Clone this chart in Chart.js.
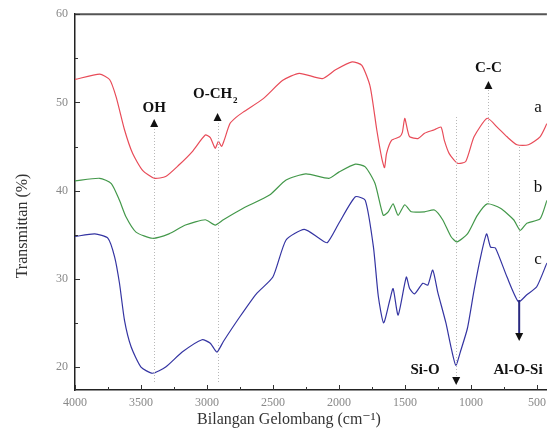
<!DOCTYPE html>
<html>
<head>
<meta charset="utf-8">
<script src="https://cdn.jsdelivr.net/npm/chart.js@4/dist/chart.umd.min.js"></script>
<style>
  html, body { margin: 0; padding: 0; background: #fff; overflow: hidden; }
</style>
</head>
<body>
<canvas id="ftirChart" width="552" height="432"></canvas>
<script>
// Sample a (red)
const waveA = [4000, 3813, 3738, 3688, 3625, 3563, 3488, 3400, 3313, 3213, 3113, 3013, 2975, 2938, 2913, 2890, 2870, 2826, 2780, 2726,
  2576, 2426, 2301, 2126, 2026, 1901, 1827, 1764, 1714, 1675, 1655, 1640, 1602, 1540, 1520, 1502, 1480, 1465, 1402, 1352,
  1277, 1227, 1202, 1165, 1102, 1040, 977, 877, 802, 727, 652, 565, 477, 425];
const transA = [52.6, 53.2, 52.6, 50.6, 46.9, 44.2, 42.3, 41.4, 41.6, 42.9, 44.4, 46.3, 46.0, 44.8, 45.6, 45.0, 45.7, 47.6, 48.3, 48.9,
  50.4, 52.5, 53.3, 52.7, 53.7, 54.6, 54.2, 51.8, 46.9, 43.6, 42.6, 44.2, 45.7, 46.1, 46.6, 48.2, 46.8, 46.1, 45.9, 46.5,
  46.9, 47.2, 45.7, 44.2, 43.1, 43.3, 46.1, 48.2, 47.2, 46.1, 45.2, 45.2, 46.1, 47.6];

// Sample b (green)
const waveB = [4000, 3813, 3725, 3663, 3613, 3538, 3413, 3288, 3163, 3013, 2938, 2876, 2726, 2526, 2401, 2251, 2076, 2001, 1876, 1801,
  1727, 1665, 1627, 1590, 1552, 1502, 1452, 1352, 1277, 1215, 1152, 1107, 1027, 952, 877, 777, 677, 627, 577, 477, 425];
const transB = [41.1, 41.4, 40.8, 38.9, 37.0, 35.3, 34.6, 35.1, 36.1, 36.7, 36.1, 36.7, 38.0, 39.5, 41.2, 41.9, 41.4, 42.1, 43.0, 42.7,
  40.8, 37.2, 37.6, 38.5, 37.2, 38.4, 37.6, 37.6, 37.8, 36.7, 34.8, 34.2, 35.1, 37.2, 38.5, 38.0, 36.7, 35.5, 36.3, 36.8, 38.9];

// Sample c (blue)
const waveC = [4000, 3850, 3750, 3700, 3663, 3625, 3575, 3500, 3413, 3313, 3188, 3038, 2975, 2925, 2876, 2751, 2626, 2501, 2401, 2263,
  2151, 2089, 2001, 1876, 1801, 1739, 1702, 1662, 1615, 1590, 1552, 1490, 1465, 1427, 1365, 1327, 1290, 1252, 1190, 1152,
  1115, 1077, 1027, 977, 927, 882, 852, 815, 727, 640, 577, 502, 425];
const transC = [34.8, 35.1, 34.6, 32.5, 29.5, 25.3, 22.3, 20.0, 19.3, 20.0, 21.7, 23.1, 22.7, 21.7, 22.9, 25.7, 28.3, 30.2, 34.4, 35.6,
  34.6, 34.1, 36.3, 39.3, 38.9, 33.6, 28.0, 25.0, 27.6, 28.9, 25.9, 30.2, 28.9, 28.3, 29.5, 29.3, 31.0, 28.5, 25.0, 22.3,
  20.2, 21.9, 24.4, 28.7, 32.5, 35.1, 33.6, 33.5, 30.2, 27.4, 28.2, 29.1, 31.8];

const xTicks = [4000, 3500, 3000, 2500, 2000, 1500, 1000, 500];
const yTicks = [20, 30, 40, 50, 60];

// band markers: [wavenumber, label]
const bandsUp = [[3400, 'OH'], [2920, 'O-CH'], [868, 'C-C']];
const bandsDown = [[1112, 'Si-O'], [635, 'Al-O-Si']];
const sampleLabels = ['a', 'b', 'c'];

const toPoints = (xs, ys) => xs.map((x, i) => ({x, y: ys[i]}));

const SERIF = '"Liberation Serif", "DejaVu Serif", serif';

const triangle = (ctx, x, y, up) => {
  ctx.beginPath();
  if (up) {
    ctx.moveTo(x, y - 4); ctx.lineTo(x + 4, y + 4); ctx.lineTo(x - 4, y + 4);
  } else {
    ctx.moveTo(x, y + 4); ctx.lineTo(x + 4, y - 4); ctx.lineTo(x - 4, y - 4);
  }
  ctx.closePath();
  ctx.fill();
};

const decorations = {
  id: 'decorations',
  afterDatasetsDraw(chart) {
    const {ctx, chartArea: a, scales: {x, y}} = chart;
    ctx.save();

    // top frame line
    ctx.strokeStyle = '#555';
    ctx.lineWidth = 2;
    ctx.beginPath();
    ctx.moveTo(a.left, a.top);
    ctx.lineTo(a.right, a.top);
    ctx.stroke();

    // inner tick marks
    ctx.strokeStyle = '#333';
    ctx.lineWidth = 1;
    ctx.beginPath();
    for (let v = 4000; v >= 500; v -= 250) {
      const px = Math.round(x.getPixelForValue(v)) + 0.5;
      const len = v % 500 === 0 ? 5 : 3;
      ctx.moveTo(px, a.bottom);
      ctx.lineTo(px, a.bottom - len);
    }
    for (let v = 20; v <= 60; v += 5) {
      const py = Math.round(y.getPixelForValue(v)) + 0.5;
      const len = v % 10 === 0 ? 5 : 3;
      ctx.moveTo(a.left, py);
      ctx.lineTo(a.left + len, py);
    }
    ctx.stroke();

    // dotted guide lines
    ctx.strokeStyle = '#b8b8b8';
    ctx.setLineDash([1, 2]);
    const guides = [[3400, 126, 384], [2920, 120, 384], [1112, 117, 376], [868, 90, 205], [635, 147, 300]];
    ctx.beginPath();
    guides.forEach(([w, y0, y1]) => {
      const px = Math.round(x.getPixelForValue(w)) + 0.5;
      ctx.moveTo(px, y0);
      ctx.lineTo(px, y1);
    });
    ctx.stroke();
    ctx.setLineDash([]);

    // arrow shaft for Al-O-Si
    const alX = x.getPixelForValue(635);
    ctx.strokeStyle = '#2a2a80';
    ctx.lineWidth = 2;
    ctx.beginPath();
    ctx.moveTo(alX, 300);
    ctx.lineTo(alX, 333);
    ctx.stroke();

    // band labels
    ctx.fillStyle = '#111';
    ctx.font = 'bold 15px ' + SERIF;
    ctx.textAlign = 'center';
    ctx.textBaseline = 'middle';
    const upPos = [[108, 123], [94, 117], [68, 85]];
    bandsUp.forEach(([w, label], i) => {
      const px = x.getPixelForValue(w);
      const [ty, triY] = upPos[i];
      if (label === 'O-CH') {
        ctx.fillText(label, px - 5, ty);
        const wText = ctx.measureText(label).width;
        ctx.font = 'bold 9px ' + SERIF;
        ctx.fillText('2', px - 5 + wText / 2 + 3, ty + 7);
        ctx.font = 'bold 15px ' + SERIF;
      } else {
        ctx.fillText(label, px, ty);
      }
      triangle(ctx, px, triY, true);
    });

    ctx.fillText(bandsDown[0][1], 425, 370);
    triangle(ctx, x.getPixelForValue(bandsDown[0][0]), 381, false);
    ctx.fillText(bandsDown[1][1], 518, 370);
    triangle(ctx, alX, 337, false);

    // sample labels
    ctx.font = '17px ' + SERIF;
    const labY = [108, 188, 260];
    sampleLabels.forEach((s, i) => ctx.fillText(s, 538, labY[i]));

    // axis titles
    ctx.fillStyle = '#333';
    ctx.font = '16px ' + SERIF;
    ctx.fillText('Bilangan Gelombang (cm\u207B\u00B9)', 289, 420);
    ctx.save();
    ctx.translate(23, 226);
    ctx.rotate(-Math.PI / 2);
    ctx.fillText('Transmittan (%)', 0, 0);
    ctx.restore();

    ctx.restore();
  }
};

const lineSet = (label, data, color) => ({
  label,
  data,
  borderColor: color,
  borderWidth: 1.2,
  pointRadius: 0,
  tension: 0.2,
  fill: false,
});

new Chart(document.getElementById('ftirChart').getContext('2d'), {
  type: 'line',
  data: {
    datasets: [
      lineSet('a', toPoints(waveA, transA), '#e84b58'),
      lineSet('b', toPoints(waveB, transB), '#43984a'),
      lineSet('c', toPoints(waveC, transC), '#3434a2'),
    ],
  },
  options: {
    responsive: false,
    animation: false,
    layout: {padding: {top: 14, right: 0, left: 0, bottom: 0}},
    plugins: {legend: {display: false}, tooltip: {enabled: false}},
    scales: {
      x: {
        type: 'linear',
        reverse: true,
        min: 425,
        max: 4000,
        afterBuildTicks: (scale) => { scale.ticks = xTicks.map(v => ({value: v})); },
        afterFit: (scale) => { scale.height = 42; },
        grid: {drawOnChartArea: false, drawTicks: false},
        border: {color: '#222', width: 1.5},
        ticks: {
          padding: 6,
          color: '#888',
          font: {family: SERIF, size: 12},
          maxRotation: 0,
          callback: (value) => String(value),
        },
      },
      y: {
        min: 17.4,
        max: 60,
        afterBuildTicks: (scale) => { scale.ticks = yTicks.map(v => ({value: v})); },
        afterFit: (scale) => { scale.width = 75; },
        grid: {drawOnChartArea: false, drawTicks: false},
        border: {color: '#222', width: 1.5},
        ticks: {
          padding: 7,
          color: '#888',
          font: {family: SERIF, size: 12},
        },
      },
    },
  },
  plugins: [decorations],
});
</script>
</body>
</html>
